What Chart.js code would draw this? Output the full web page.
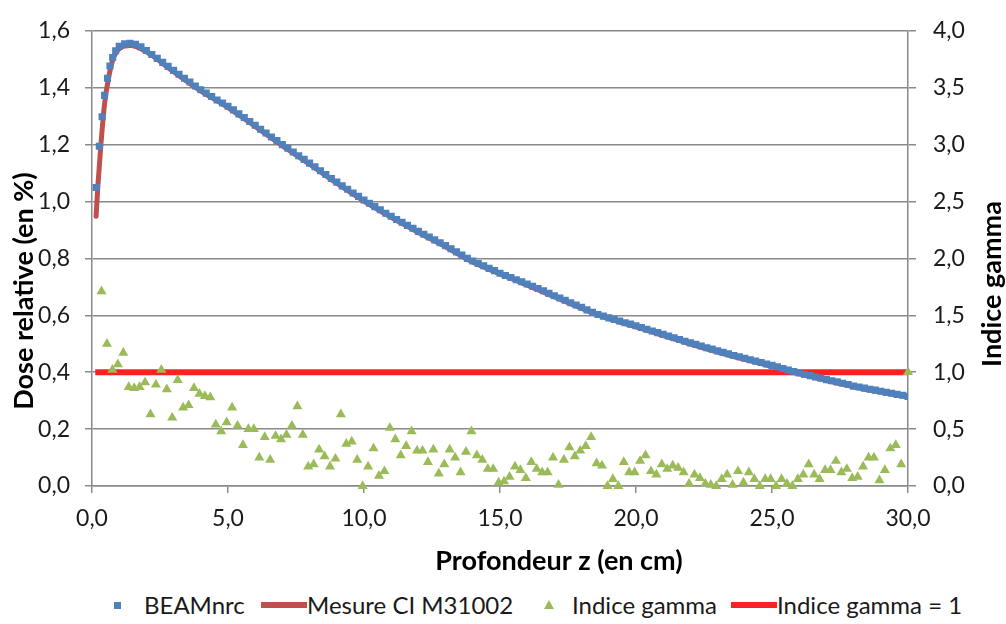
<!DOCTYPE html>
<html>
<head>
<meta charset="utf-8">
<script src="https://cdn.jsdelivr.net/npm/chart.js@4.4.1/dist/chart.umd.min.js"></script>
<style>
  body { margin: 0; background: #fff; overflow: hidden; font-family: Lato, "Open Sans", sans-serif; }
  #wrap { position: relative; width: 1006px; height: 624px; }
  #chart { position: absolute; left: 0; top: 0; }
  #legend { position: absolute; left: 0; top: 590px; width: 1006px; height: 30px; font-size: 24px; color: #1a1a1a; }
  .txt { position: absolute; top: 0; line-height: 30px; white-space: nowrap; }
  .sq { position: absolute; top: 12px; width: 7px; height: 7px; background: #4f81bd; }
  .ln { position: absolute; top: 12px; height: 6px; }
  .tri { position: absolute; top: 10px; width: 0; height: 0; border-left: 5px solid transparent; border-right: 5px solid transparent; border-bottom: 9px solid #9bbb59; }
</style>
</head>
<body>
<div id="wrap">
  <canvas id="chart" width="1006" height="580"></canvas>
  <div id="legend">
    <div class="sq" style="left:114px"></div>
    <div class="txt" style="left:144px">BEAMnrc</div>
    <div class="ln" style="left:261px;width:46px;background:#c0504d"></div>
    <div class="txt" style="left:307px">Mesure CI M31002</div>
    <div class="tri" style="left:544px"></div>
    <div class="txt" style="left:572px">Indice gamma</div>
    <div class="ln" style="left:731px;width:46px;background:#ff2020"></div>
    <div class="txt" style="left:777px">Indice gamma = 1</div>
  </div>
</div>
<script>
// depth (cm) and relative dose of the BEAMnrc simulation
const depthBeam = [0.15, 0.27, 0.37, 0.46, 0.57, 0.66, 0.76, 0.87,
  1.0, 1.2, 1.4, 1.6, 1.8, 2.0, 2.2, 2.4, 2.6, 2.8, 3.0, 3.2, 3.4, 3.6, 3.8,
  4.0, 4.2, 4.4, 4.6, 4.8, 5.0, 5.2, 5.4, 5.6, 5.8, 6.0, 6.2, 6.4, 6.6, 6.8,
  7.0, 7.2, 7.4, 7.6, 7.8, 8.0, 8.2, 8.4, 8.6, 8.8, 9.0, 9.2, 9.4, 9.6, 9.8,
  10.0, 10.2, 10.4, 10.6, 10.8, 11.0, 11.2, 11.4, 11.6, 11.8, 12.0, 12.2, 12.4, 12.6, 12.8,
  13.0, 13.2, 13.4, 13.6, 13.8, 14.0, 14.2, 14.4, 14.6, 14.8, 15.0, 15.2, 15.4, 15.6, 15.8,
  16.0, 16.2, 16.4, 16.6, 16.8, 17.0, 17.2, 17.4, 17.6, 17.8, 18.0, 18.2, 18.4, 18.6, 18.8,
  19.0, 19.2, 19.4, 19.6, 19.8, 20.0, 20.2, 20.4, 20.6, 20.8, 21.0, 21.2, 21.4, 21.6, 21.8,
  22.0, 22.2, 22.4, 22.6, 22.8, 23.0, 23.2, 23.4, 23.6, 23.8, 24.0, 24.2, 24.4, 24.6, 24.8,
  25.0, 25.2, 25.4, 25.6, 25.8, 26.0, 26.2, 26.4, 26.6, 26.8, 27.0, 27.2, 27.4, 27.6, 27.8,
  28.0, 28.2, 28.4, 28.6, 28.8, 29.0, 29.2, 29.4, 29.6, 29.8, 30.0];
const doseBeam = [1.049, 1.194, 1.298, 1.373, 1.433, 1.476, 1.506, 1.530,
  1.546, 1.554, 1.556, 1.553, 1.544, 1.531, 1.517, 1.503, 1.489, 1.475, 1.461, 1.447, 1.433, 1.420, 1.406,
  1.393, 1.381, 1.369, 1.357, 1.346, 1.335, 1.322, 1.308, 1.295, 1.281, 1.268, 1.254, 1.241, 1.227, 1.214,
  1.200, 1.187, 1.174, 1.161, 1.148, 1.135, 1.122, 1.108, 1.095, 1.081, 1.068, 1.055, 1.043, 1.030, 1.018,
  1.005, 0.994, 0.982, 0.971, 0.959, 0.948, 0.937, 0.927, 0.916, 0.906, 0.895, 0.885, 0.875, 0.865, 0.855,
  0.845, 0.834, 0.823, 0.812, 0.800, 0.791, 0.782, 0.774, 0.765, 0.757, 0.748, 0.740, 0.733, 0.725, 0.718,
  0.710, 0.702, 0.694, 0.686, 0.677, 0.669, 0.661, 0.653, 0.644, 0.636, 0.628, 0.619, 0.611, 0.603, 0.597,
  0.591, 0.585, 0.580, 0.574, 0.569, 0.563, 0.557, 0.551, 0.545, 0.539, 0.533, 0.527, 0.521, 0.515, 0.509,
  0.503, 0.498, 0.492, 0.486, 0.481, 0.475, 0.470, 0.465, 0.459, 0.454, 0.449, 0.444, 0.439, 0.434, 0.429,
  0.424, 0.419, 0.413, 0.408, 0.402, 0.397, 0.392, 0.388, 0.383, 0.379, 0.374, 0.370, 0.366, 0.361, 0.357,
  0.351, 0.348, 0.344, 0.340, 0.337, 0.333, 0.329, 0.326, 0.322, 0.319, 0.315];

// measured curve (CI M31002)
const depthMesure = [0.15, 0.22, 0.33, 0.46, 0.61, 0.79, 1.04, 1.41, 2.0, 3.0, 4.0, 5.0, 6.0, 7.0, 8.0, 9.0,
  10.0, 11.0, 12.0, 13.0, 14.0, 15.0, 16.0, 17.0, 18.0, 19.0, 20.0, 21.0, 22.0, 23.0, 24.0, 25.0,
  26.0, 27.0, 28.0, 29.0, 30.0];
const doseMesure = [0.948, 1.06, 1.203, 1.342, 1.435, 1.505, 1.540, 1.548, 1.526, 1.456, 1.389, 1.330, 1.264, 1.196, 1.131, 1.064,
  1.001, 0.944, 0.891, 0.841, 0.787, 0.745, 0.706, 0.665, 0.624, 0.588, 0.559, 0.529, 0.499, 0.471, 0.445, 0.420,
  0.394, 0.371, 0.349, 0.330, 0.313];

// gamma index (right axis)
const depthGamma = [0.35, 0.55, 0.75, 0.95, 1.15, 1.35, 1.55, 1.75, 1.95, 2.15,
  2.35, 2.55, 2.75, 2.95, 3.15, 3.35, 3.55, 3.75, 3.95, 4.15,
  4.35, 4.55, 4.75, 4.95, 5.15, 5.35, 5.55, 5.75, 5.95, 6.15,
  6.35, 6.55, 6.75, 6.95, 7.15, 7.35, 7.55, 7.75, 7.95, 8.15,
  8.35, 8.55, 8.75, 8.95, 9.15, 9.35, 9.55, 9.75, 9.95, 10.15,
  10.35, 10.55, 10.75, 10.95, 11.15, 11.35, 11.55, 11.75, 11.95, 12.15,
  12.35, 12.55, 12.75, 12.95, 13.15, 13.35, 13.55, 13.75, 13.95, 14.15,
  14.35, 14.55, 14.75, 14.95, 15.15, 15.35, 15.55, 15.75, 15.95, 16.15,
  16.35, 16.55, 16.75, 16.95, 17.15, 17.35, 17.55, 17.75, 17.95, 18.15,
  18.35, 18.55, 18.75, 18.95, 19.15, 19.35, 19.55, 19.75, 19.95, 20.15,
  20.35, 20.55, 20.75, 20.95, 21.15, 21.35, 21.55, 21.75, 21.95, 22.15,
  22.35, 22.55, 22.75, 22.95, 23.15, 23.35, 23.55, 23.75, 23.95, 24.15,
  24.35, 24.55, 24.75, 24.95, 25.15, 25.35, 25.55, 25.75, 25.95, 26.15,
  26.35, 26.55, 26.75, 26.95, 27.15, 27.35, 27.55, 27.75, 27.95, 28.15,
  28.35, 28.55, 28.75, 28.95, 29.15, 29.35, 29.55, 29.75, 30.0];
const gamma = [1.71, 1.25, 1.02, 1.07, 1.17, 0.87, 0.86, 0.87, 0.91, 0.63,
  0.89, 1.02, 0.85, 0.60, 0.93, 0.69, 0.71, 0.86, 0.81, 0.79,
  0.78, 0.54, 0.48, 0.56, 0.69, 0.53, 0.36, 0.50, 0.50, 0.25,
  0.43, 0.23, 0.44, 0.41, 0.45, 0.53, 0.70, 0.45, 0.17, 0.19,
  0.32, 0.26, 0.17, 0.24, 0.63, 0.37, 0.39, 0.23, 0.00, 0.17,
  0.33, 0.09, 0.13, 0.51, 0.41, 0.27, 0.35, 0.48, 0.31, 0.31,
  0.21, 0.32, 0.11, 0.19, 0.32, 0.25, 0.12, 0.30, 0.48, 0.27,
  0.23, 0.15, 0.15, 0.03, 0.04, 0.08, 0.17, 0.14, 0.07, 0.21,
  0.15, 0.12, 0.12, 0.25, 0.01, 0.23, 0.34, 0.26, 0.31, 0.35,
  0.43, 0.20, 0.18, 0.00, 0.06, 0.00, 0.21, 0.12, 0.12, 0.22,
  0.27, 0.13, 0.10, 0.19, 0.15, 0.18, 0.16, 0.12, 0.02, 0.10,
  0.07, 0.02, 0.01, 0.00, 0.06, 0.10, 0.01, 0.13, 0.03, 0.12,
  0.06, 0.00, 0.06, 0.06, 0.00, 0.06, 0.02, 0.00, 0.06, 0.10,
  0.19, 0.10, 0.06, 0.14, 0.14, 0.22, 0.12, 0.15, 0.07, 0.08,
  0.17, 0.25, 0.25, 0.05, 0.14, 0.33, 0.36, 0.19, 1.00];

// gamma = 1 reference line
const depthRef = [0.12, 30.0];
const gammaRef = [1, 1];

// axis ticks
const xTicks = [0, 5, 10, 15, 20, 25, 30];
const doseTicks = [0, 0.2, 0.4, 0.6, 0.8, 1.0, 1.2, 1.4, 1.6];
const gammaTicks = [0, 0.5, 1.0, 1.5, 2.0, 2.5, 3.0, 3.5, 4.0];

const gridColor = '#8a8a8a';
const tickFont = { family: 'Lato', size: 23 };

function pts(xs, ys) {
  return xs.map((x, i) => ({ x: x, y: ys[i] }));
}
function fmt(v) {
  return Number(v).toFixed(1).replace('.', ',');
}

const axisTitles = {
  id: 'axisTitles',
  afterDraw(chart) {
    const ctx = chart.ctx;
    ctx.save();
    ctx.font = 'bold 27px Lato';
    ctx.fillStyle = '#000';
    ctx.textAlign = 'center';
    ctx.textBaseline = 'middle';
    ctx.fillText('Profondeur z (en cm)', 559, 561);
    ctx.translate(24, 291);
    ctx.rotate(-Math.PI / 2);
    ctx.fillText('Dose relative (en %)', 0, 0);
    ctx.restore();
    ctx.save();
    ctx.font = 'bold 27px Lato';
    ctx.fillStyle = '#000';
    ctx.textAlign = 'center';
    ctx.textBaseline = 'middle';
    ctx.translate(992, 284);
    ctx.rotate(-Math.PI / 2);
    ctx.fillText('Indice gamma', 0, 0);
    ctx.restore();
  }
};

function draw() {
  const ctx = document.getElementById('chart').getContext('2d');
  new Chart(ctx, {
    type: 'scatter',
    data: {
      datasets: [{
        label: 'BEAMnrc',
        data: pts(depthBeam, doseBeam),
        pointStyle: 'rect',
        pointRadius: 5,
        backgroundColor: '#4f81bd',
        borderWidth: 0,
        yAxisID: 'y',
        order: 0
      }, {
        label: 'Mesure CI M31002',
        data: pts(depthMesure, doseMesure),
        showLine: true,
        borderColor: '#c0504d',
        borderWidth: 5,
        pointRadius: 0,
        cubicInterpolationMode: 'monotone',
        borderCapStyle: 'round',
        yAxisID: 'y',
        order: 2
      }, {
        label: 'Indice gamma',
        data: pts(depthGamma, gamma),
        pointStyle: 'triangle',
        pointRadius: 5.8,
        backgroundColor: '#9bbb59',
        borderWidth: 0,
        yAxisID: 'y2',
        clip: false,
        order: 1
      }, {
        label: 'Indice gamma = 1',
        data: pts(depthRef, gammaRef),
        showLine: true,
        borderColor: '#ff2020',
        borderWidth: 6,
        pointRadius: 0,
        yAxisID: 'y2',
        order: 3
      }]
    },
    options: {
      responsive: false,
      animation: false,
      events: [],
      layout: { padding: { top: 25, left: 0, right: 0, bottom: 0 } },
      plugins: {
        legend: { display: false },
        tooltip: { enabled: false }
      },
      scales: {
        x: {
          type: 'linear',
          position: 'bottom',
          min: 0,
          max: 30,
          afterBuildTicks: s => { s.ticks = xTicks.map(v => ({ value: v })); },
          afterFit: s => { s.height = 94; },
          grid: { drawOnChartArea: false, drawTicks: true, tickLength: 7, color: gridColor, lineWidth: 1.5 },
          border: { color: gridColor, width: 1.5 },
          ticks: { font: tickFont, color: '#1a1a1a', padding: 12, maxRotation: 0, callback: v => fmt(v) }
        },
        y: {
          type: 'linear',
          position: 'left',
          min: 0,
          max: 1.6,
          afterBuildTicks: s => { s.ticks = doseTicks.map(v => ({ value: v })); },
          afterFit: s => { s.width = 92; },
          grid: { drawTicks: true, tickLength: 7, color: gridColor, lineWidth: 1.5 },
          border: { color: gridColor, width: 1.5 },
          ticks: { font: tickFont, color: '#1a1a1a', padding: 15, callback: v => fmt(v) }
        },
        y2: {
          type: 'linear',
          position: 'right',
          min: 0,
          max: 4,
          afterBuildTicks: s => { s.ticks = gammaTicks.map(v => ({ value: v })); },
          afterFit: s => { s.width = 98; },
          grid: { drawOnChartArea: false, drawTicks: true, tickLength: 8, color: gridColor, lineWidth: 1.5 },
          border: { color: gridColor, width: 1.5 },
          ticks: { font: tickFont, color: '#1a1a1a', padding: 17, callback: v => fmt(v) }
        }
      }
    },
    plugins: [axisTitles]
  });
}

if (document.fonts && document.fonts.load) {
  Promise.all([document.fonts.load('23px Lato'), document.fonts.load('bold 27px Lato')]).then(draw, draw);
} else {
  draw();
}
</script>
</body>
</html>
